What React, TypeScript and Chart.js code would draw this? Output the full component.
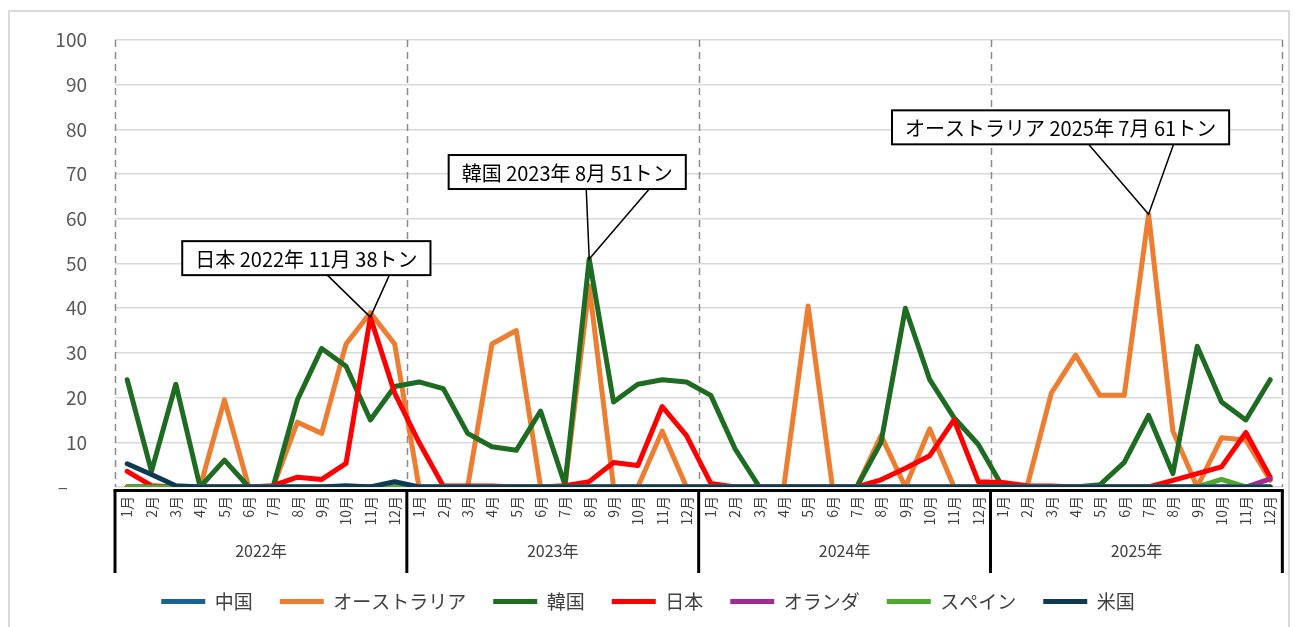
import React, { useEffect, useRef } from 'react';
import { Chart, registerables } from 'chart.js';

Chart.register(...registerables);

const FONT = "'Noto Sans CJK JP', 'Noto Sans', sans-serif";

const years = ['2022年', '2023年', '2024年', '2025年'];
const months = ['1月', '2月', '3月', '4月', '5月', '6月', '7月', '8月', '9月', '10月', '11月', '12月'];
const yTicks = [0, 10, 20, 30, 40, 50, 60, 70, 80, 90, 100];

const seriesNames = ['中国', 'オーストラリア', '韓国', '日本', 'オランダ', 'スペイン', '米国'];
const seriesColors = ['#1a628f', '#ED7D31', '#1E6B22', '#FF0000', '#A02B93', '#4EA72E', '#0E3A53'];

const china = [
  0, 0, 0, 0, 0, 0, 0, 0, 0, 0, 0, 0,
  0, 0, 0, 0, 0, 0, 0, 0, 0, 0, 0, 0,
  0, 0, 0, 0, 0, 0, 0, 0, 0, 0, 0, 0,
  0, 0, 0, 0, 0, 0, 0, 0, 0, 0, 0, 0,
];
const australia = [
  0, 0, 0, 0, 19.5, 0, 0, 14.5, 12, 32, 39, 32,
  0, 0, 0, 32, 35, 0, 0, 45, 0, 0, 12.5, 0,
  0, 0, 0, 0, 40.5, 0, 0, 11.5, 0, 13, 0, 0,
  0, 0, 21, 29.5, 20.5, 20.5, 61, 12.5, 0, 11, 10.5, 1.5,
];
const korea = [
  24, 3.5, 23, 0, 6, 0, 0, 19.5, 31, 27, 15, 22.5,
  23.5, 22, 12, 9, 8.2, 17, 0.5, 51, 19, 23, 24, 23.5,
  20.5, 8.5, 0, 0, 0, 0, 0, 10, 40, 24, 15.5, 9.5,
  0, 0, 0, 0, 0.5, 5.5, 16, 3, 31.5, 19, 15, 24,
];
const japan = [
  3.5, 0.3, 0, 0, 0, 0, 0.3, 2.2, 1.7, 5.3, 38, 21,
  10, 0.2, 0.2, 0.2, 0, 0, 0.3, 1.2, 5.5, 4.8, 18, 11.5,
  0.8, 0, 0, 0, 0, 0, 0, 1.6, 4.2, 7, 15, 1.2,
  1, 0.3, 0.2, 0, 0, 0, 0, 1.5, 3, 4.5, 12.2, 2.2,
];
const netherlands = [
  0, 0, 0, 0, 0, 0, 0, 0, 0, 0, 0, 0,
  0, 0, 0, 0, 0, 0, 0, 0, 0, 0, 0, 0,
  0, 0, 0, 0, 0, 0, 0, 0, 0, 0, 0, 0,
  0, 0, 0, 0, 0, 0, 0, 0, 0, 0, 0, 1.8,
];
const spain = [
  0, 0, 0, 0, 0, 0, 0, 0, 0, 0, 0, 0,
  0, 0, 0, 0, 0, 0, 0, 0, 0, 0, 0, 0,
  0, 0, 0, 0, 0, 0, 0, 0, 0, 0, 0, 0,
  0, 0, 0, 0, 0, 0, 0, 0, 0, 1.7, 0, 0,
];
const usa = [
  5.2, 2.8, 0.3, 0, 0, 0, 0, 0, 0, 0.3, 0, 1.2,
  0, 0, 0, 0, 0, 0, 0, 0, 0, 0, 0, 0,
  0, 0, 0, 0, 0, 0, 0, 0, 0, 0, 0, 0,
  0, 0, 0, 0, 0, 0, 0, 0, 0, 0, 0, 0,
];
const seriesValues = [china, australia, korea, japan, netherlands, spain, usa];

// callouts: which series/point, text, and box placement relative to the point
const callouts = [
  { series: 3, index: 10, text: '日本 2022年 11月 38トン', dx: -64, dy: -59, legL: -43, legR: 19 },
  { series: 2, index: 19, text: '韓国 2023年 8月 51トン', dx: -22, dy: -87, legL: -3, legR: 60 },
  { series: 1, index: 42, text: 'オーストラリア 2025年 7月 61トン', dx: -88, dy: -87, legL: -60, legR: 25 },
];

const labels = years.flatMap((y) => months.map((m) => y + m));

const decorPlugin = {
  id: 'decor',
  beforeDatasetsDraw(chart: any) {
    const { ctx, chartArea } = chart;
    const xs = chart.scales.x;
    ctx.save();
    ctx.strokeStyle = '#8a8a8a';
    ctx.lineWidth = 1.5;
    ctx.setLineDash([7, 5]);
    for (let k = 0; k <= years.length; k++) {
      const px = Math.round(xs.getPixelForValue(k * months.length - 0.5)) + 0.5;
      ctx.beginPath();
      ctx.moveTo(px, chartArea.top);
      ctx.lineTo(px, chartArea.bottom);
      ctx.stroke();
    }
    ctx.restore();
  },
  afterDraw(chart: any) {
    const { ctx, chartArea } = chart;
    const xs = chart.scales.x;
    ctx.save();
    // category box lines
    ctx.strokeStyle = '#000';
    ctx.lineWidth = 3;
    const yTop = chartArea.bottom + 3.5;
    const yBot = chartArea.bottom + 86;
    const xL = xs.getPixelForValue(-0.5);
    const xR = xs.getPixelForValue(years.length * months.length - 0.5);
    ctx.beginPath();
    ctx.moveTo(xL - 1.5, yTop);
    ctx.lineTo(xR + 1.5, yTop);
    ctx.stroke();
    for (let k = 0; k <= years.length; k++) {
      const px = xs.getPixelForValue(k * months.length - 0.5);
      ctx.beginPath();
      ctx.moveTo(px, yTop);
      ctx.lineTo(px, yBot);
      ctx.stroke();
    }
    // callouts
    ctx.font = `20px ${FONT}`;
    for (const c of callouts) {
      const pt = chart.getDatasetMeta(c.series).data[c.index];
      const px = pt.x;
      const py = pt.y;
      const tw = ctx.measureText(c.text).width;
      const bw = tw + 26;
      const bh = 34;
      const cx = px + c.dx;
      const cy = py + c.dy;
      const left = cx - bw / 2;
      const top = cy - bh / 2;
      const bottom = cy + bh / 2;
      ctx.setLineDash([]);
      ctx.lineWidth = 1.5;
      ctx.strokeStyle = '#000';
      ctx.beginPath();
      ctx.moveTo(px + c.legL, bottom);
      ctx.lineTo(px, py);
      ctx.lineTo(px + c.legR, bottom);
      ctx.stroke();
      ctx.fillStyle = '#fff';
      ctx.fillRect(left, top, bw, bh);
      ctx.lineWidth = 2;
      ctx.strokeRect(left, top, bw, bh);
      ctx.fillStyle = '#000';
      ctx.textAlign = 'center';
      ctx.textBaseline = 'middle';
      ctx.fillText(c.text, cx, cy + 1);
    }
    ctx.restore();
  },
};

export default function App() {
  const canvasRef = useRef<HTMLCanvasElement | null>(null);

  useEffect(() => {
    if (!canvasRef.current) return;
    Chart.defaults.font.family = FONT;
    const chart = new Chart(canvasRef.current, {
      type: 'line',
      data: {
        labels,
        datasets: seriesNames.map((name, i) => ({
          label: name,
          data: seriesValues[i],
          borderColor: seriesColors[i],
          backgroundColor: seriesColors[i],
          borderWidth: 5,
          pointRadius: 0,
          tension: 0,
          fill: false,
          borderCapStyle: 'round' as const,
          borderJoinStyle: 'round' as const,
          order: seriesNames.length - 1 - i,
          xAxisID: 'x',
          yAxisID: 'y',
        })),
      },
      options: {
        responsive: false,
        animation: false,
        devicePixelRatio: 1,
        events: [],
        layout: { padding: { top: 28, right: 2, left: 0, bottom: 6 } },
        plugins: {
          tooltip: { enabled: false },
          legend: {
            position: 'bottom',
            labels: {
              usePointStyle: true,
              pointStyle: 'line',
              pointStyleWidth: 44,
              padding: 27,
              color: '#404040',
              font: { size: 19, family: FONT },
              sort: (a: any, b: any) => a.datasetIndex - b.datasetIndex,
            },
          },
        },
        scales: {
          x: {
            type: 'category',
            position: 'bottom',
            offset: true,
            weight: 0,
            grid: { display: false },
            border: { display: false },
            ticks: {
              autoSkip: false,
              maxRotation: 90,
              minRotation: 90,
              padding: 1,
              color: '#404040',
              font: { size: 14, family: FONT },
              callback: (_v: any, idx: number) => months[idx % months.length],
            },
            afterFit: (s: any) => {
              s.height = 40;
            },
          },
          x2: {
            type: 'category',
            position: 'bottom',
            labels: years,
            offset: true,
            weight: 1,
            grid: { display: false },
            border: { display: false },
            ticks: {
              autoSkip: false,
              maxRotation: 0,
              minRotation: 0,
              padding: 6,
              color: '#404040',
              font: { size: 16, family: FONT },
            },
            afterFit: (s: any) => {
              s.height = 38;
            },
          },
          y: {
            type: 'linear',
            min: yTicks[0],
            max: yTicks[yTicks.length - 1],
            border: { display: false },
            grid: { color: '#d9d9d9', lineWidth: 1.5, drawTicks: false },
            afterBuildTicks: (s: any) => {
              s.ticks = yTicks.map((v) => ({ value: v }));
            },
            ticks: {
              padding: 28,
              color: '#595959',
              font: { size: 19, family: FONT },
              callback: (v: any) => (Number(v) === 0 ? '–\u2003' : String(v)),
            },
            afterFit: (s: any) => {
              s.width = 105;
              s.paddingTop = 0;
              s.paddingBottom = 0;
            },
          },
        },
      },
      plugins: [decorPlugin],
    });
    return () => chart.destroy();
  }, []);

  return (
    <div
      style={{
        position: 'absolute',
        left: 8,
        top: 10,
        width: 1278,
        height: 615,
        border: '2px solid #d9d9d9',
        background: '#fff',
      }}
    >
      <canvas ref={canvasRef} width={1278} height={615} style={{ display: 'block' }} />
    </div>
  );
}
